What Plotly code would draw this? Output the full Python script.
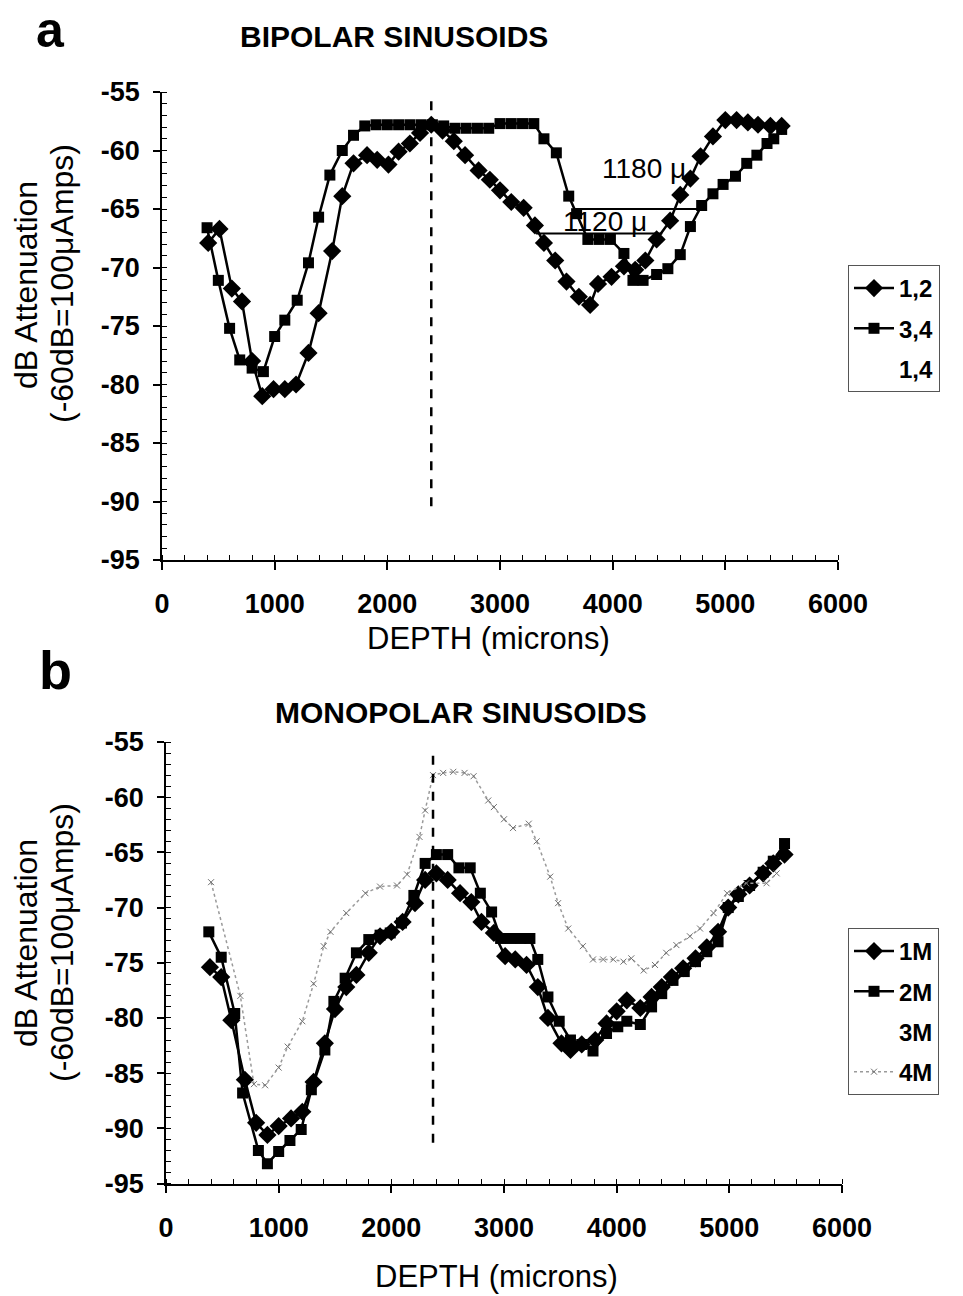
import plotly.graph_objects as go

W, H = 963, 1296
FONT = "Liberation Sans, Arial, sans-serif"

# ---- Panel a: bipolar sinusoids (depth in microns, attenuation in dB) ----
depth_12 = [410, 510, 620, 710, 800, 890, 990, 1090, 1190, 1300, 1390, 1510, 1600, 1700,
            1820, 1910, 2010, 2100, 2200, 2290, 2390, 2490, 2590, 2690, 2810, 2910, 3000,
            3100, 3210, 3310, 3390, 3490, 3590, 3700, 3800, 3870, 3990, 4100, 4200, 4290,
            4390, 4510, 4600, 4690, 4780, 4890, 5000, 5100, 5200, 5290, 5400, 5500]
att_12 = [-67.9, -66.7, -71.8, -72.9, -78.0, -81.0, -80.4, -80.4, -80.0, -77.3, -73.9, -68.6,
          -63.9, -61.1, -60.4, -60.8, -61.2, -60.1, -59.4, -58.5, -57.8, -58.3, -59.2, -60.4,
          -61.7, -62.5, -63.4, -64.4, -64.9, -66.4, -67.9, -69.4, -71.2, -72.5, -73.2, -71.4,
          -70.8, -69.9, -70.2, -69.4, -67.6, -66.0, -63.8, -62.4, -60.5, -58.8, -57.4, -57.4,
          -57.6, -57.8, -57.9, -57.9]

depth_34 = [400, 500, 600, 690, 800, 900, 1000, 1090, 1200, 1300, 1390, 1490, 1600, 1700,
            1800, 1900, 2000, 2100, 2200, 2300, 2400, 2500, 2600, 2700, 2800, 2900, 3000,
            3100, 3200, 3300, 3390, 3500, 3610, 3680, 3780, 3880, 3980, 4100, 4180, 4270,
            4390, 4490, 4600, 4690, 4790, 4890, 4980, 5090, 5190, 5280, 5370, 5430, 5500]
att_34 = [-66.6, -71.1, -75.2, -77.9, -78.6, -78.9, -75.9, -74.5, -72.8, -69.6, -65.7, -62.1,
          -60.0, -58.7, -57.9, -57.8, -57.8, -57.8, -57.8, -57.8, -57.8, -57.9, -58.1, -58.1,
          -58.1, -58.1, -57.7, -57.7, -57.7, -57.7, -59.0, -60.2, -63.9, -65.4, -67.6, -67.6,
          -67.6, -68.8, -71.1, -71.1, -70.6, -70.1, -68.9, -66.5, -64.7, -63.7, -62.9, -62.2,
          -61.1, -60.4, -59.4, -59.0, -58.2]

# ---- Panel b: monopolar sinusoids ----
depth_1m = [390, 490, 580, 700, 800, 900, 1000, 1110, 1210, 1310, 1410, 1500, 1600, 1690,
            1800, 1900, 2000, 2100, 2210, 2300, 2400, 2500, 2610, 2710, 2800, 2910, 3010,
            3100, 3200, 3300, 3390, 3510, 3590, 3690, 3810, 3910, 4000, 4090, 4210, 4310,
            4400, 4490, 4590, 4700, 4800, 4900, 4990, 5080, 5180, 5300, 5390, 5490]
att_1m = [-75.4, -76.3, -80.2, -85.6, -89.5, -90.6, -89.8, -89.1, -88.5, -85.8, -82.3, -79.2,
          -77.2, -76.1, -74.1, -72.6, -72.2, -71.3, -69.6, -67.5, -66.9, -67.5, -68.7, -69.5,
          -71.3, -72.3, -74.4, -74.7, -75.2, -77.2, -80.0, -82.3, -82.9, -82.4, -82.0, -80.5,
          -79.4, -78.4, -79.1, -78.1, -77.2, -76.3, -75.5, -74.6, -73.6, -72.2, -70.0, -68.8,
          -68.0, -66.9, -66.0, -65.2]

depth_2m = [380, 490, 610, 680, 820, 900, 1000, 1100, 1200, 1290, 1410, 1490, 1590, 1690,
            1800, 1900, 1990, 2090, 2200, 2300, 2400, 2500, 2600, 2700, 2790, 2890, 2970,
            3060, 3150, 3230, 3300, 3390, 3490, 3590, 3690, 3790, 3910, 4010, 4090, 4210,
            4310, 4400, 4500, 4600, 4700, 4800, 4900, 4990, 5080, 5180, 5300, 5390, 5490]
att_2m = [-72.2, -74.5, -79.6, -86.8, -92.0, -93.2, -92.1, -91.1, -90.1, -86.5, -82.9, -78.5,
          -76.4, -74.1, -72.9, -72.5, -72.3, -71.4, -68.9, -66.0, -65.2, -65.2, -66.4, -66.4,
          -68.7, -70.4, -72.8, -72.8, -72.8, -72.8, -74.7, -78.1, -80.3, -82.0, -82.4, -83.0,
          -81.4, -80.8, -80.3, -80.6, -79.0, -77.8, -76.6, -75.8, -74.9, -74.0, -73.1, -70.0,
          -69.0, -68.0, -66.8, -65.8, -64.2]

depth_4m = [400, 660, 780, 880, 1000, 1080, 1210, 1310, 1400, 1460, 1600, 1770, 1900, 2050,
            2140, 2250, 2300, 2370, 2460, 2550, 2650, 2730, 2860, 2910, 3000, 3080, 3220,
            3290, 3410, 3480, 3570, 3700, 3790, 3880, 3970, 4060, 4130, 4240, 4340, 4440,
            4530, 4650, 4740, 4860, 4980, 5150, 5330, 5420]
att_4m = [-67.7, -78.0, -86.0, -86.1, -84.5, -82.6, -80.3, -76.9, -73.5, -72.2, -70.5, -68.7,
          -68.1, -68.0, -67.0, -63.6, -61.2, -58.0, -57.8, -57.7, -57.8, -58.1, -60.3, -60.9,
          -62.0, -62.8, -62.4, -64.0, -67.2, -69.6, -71.9, -73.5, -74.7, -74.7, -74.7, -74.9,
          -74.6, -75.7, -75.2, -74.1, -73.4, -72.6, -71.9, -70.5, -68.7, -67.8, -67.8, -66.9]

# Reference depth marker (dashed vertical line) for each panel
marker_depth_a = 2390
marker_span_a = [-90.4, -55.4]
marker_depth_b = 2370
marker_span_b = [-91.3, -55.7]

# Width measurements drawn on panel a
span_labels = ["1180 μ", "1120 μ"]
span_start = [3650, 3320]
span_end = [4830, 4440]
span_level = [-65.0, -67.1]
span_label_x = [4280, 3930]
span_label_y = [-61.5, -66.1]

# Axis ticks
x_ticks = [0, 1000, 2000, 3000, 4000, 5000, 6000]
y_ticks = [-55, -60, -65, -70, -75, -80, -85, -90, -95]

fig = go.Figure()

black = "black"
series_a = [
    ("1,2", depth_12, att_12, "diamond", 14),
    ("3,4", depth_34, att_34, "square", 11),
]
for i, (name, xs, ys, sym, size) in enumerate(series_a):
    fig.add_trace(go.Scatter(
        x=xs, y=ys, name=name, mode="lines+markers", xaxis="x", yaxis="y",
        line=dict(color=black, width=2.5),
        marker=dict(symbol=sym, size=size, color=black),
        legend="legend", legendgroup="a%d" % i,
    ))
# series 1,4 is printed in a colour that does not show on the page
fig.add_trace(go.Scatter(
    x=[None], y=[None], name="1,4", mode="lines", xaxis="x", yaxis="y",
    line=dict(color="white", width=2), legend="legend", legendgroup="a2",
))

series_b = [
    ("1M", depth_1m, att_1m, "diamond", 14),
    ("2M", depth_2m, att_2m, "square", 11),
]
for i, (name, xs, ys, sym, size) in enumerate(series_b):
    fig.add_trace(go.Scatter(
        x=xs, y=ys, name=name, mode="lines+markers", xaxis="x2", yaxis="y2",
        line=dict(color=black, width=2.5),
        marker=dict(symbol=sym, size=size, color=black),
        legend="legend2", legendgroup="b%d" % i,
    ))
fig.add_trace(go.Scatter(
    x=[None], y=[None], name="3M", mode="lines", xaxis="x2", yaxis="y2",
    line=dict(color="white", width=2), legend="legend2", legendgroup="b2",
))
fig.add_trace(go.Scatter(
    x=depth_4m, y=att_4m, name="4M", mode="lines+markers", xaxis="x2", yaxis="y2",
    line=dict(color="#9a9a9a", width=1.5, dash="dot"),
    marker=dict(symbol="x-thin-open", size=6, color="#707070", line=dict(width=1, color="#707070")),
    legend="legend2", legendgroup="b3",
))

# dashed reference lines
for xa, ya, d, span in [("x", "y", marker_depth_a, marker_span_a),
                        ("x2", "y2", marker_depth_b, marker_span_b)]:
    fig.add_shape(type="line", xref=xa, yref=ya, x0=d, x1=d, y0=span[0], y1=span[1],
                  line=dict(color=black, width=2.5, dash="dash"))

# width bars with labels
for lab, x0, x1, lvl, lx, ly in zip(span_labels, span_start, span_end, span_level,
                                    span_label_x, span_label_y):
    fig.add_shape(type="line", xref="x", yref="y", x0=x0, x1=x1, y0=lvl, y1=lvl,
                  line=dict(color=black, width=2))
    fig.add_annotation(x=lx, y=ly, xref="x", yref="y", text=lab, showarrow=False,
                       font=dict(family=FONT, size=28, color=black))


def xaxis_style(domain, anchor):
    return dict(
        domain=domain, anchor=anchor, range=[0, 6000], automargin=False,
        tickmode="array", tickvals=x_ticks, ticktext=[str(v) for v in x_ticks],
        showline=True, linecolor=black, linewidth=1.5,
        ticks="outside", ticklen=8, tickwidth=1.5, tickcolor=black,
        minor=dict(tickmode="linear", tick0=0, dtick=200, ticks="inside",
                   ticklen=5, tickwidth=1, tickcolor=black),
        showgrid=False, zeroline=False, ticklabelstandoff=11,
        tickfont=dict(family=FONT, size=27, color=black, weight="bold"),
    )


def yaxis_style(domain, anchor):
    return dict(
        domain=domain, anchor=anchor, range=[-95, -55], automargin=False,
        tickmode="array", tickvals=y_ticks, ticktext=[str(v) for v in y_ticks],
        showline=True, linecolor=black, linewidth=1.5,
        ticks="outside", ticklen=7, tickwidth=1.5, tickcolor=black,
        minor=dict(tickmode="linear", tick0=-95, dtick=1, ticks="inside",
                   ticklen=5, tickwidth=1, tickcolor=black),
        showgrid=False, zeroline=False, ticklabelstandoff=8,
        tickfont=dict(family=FONT, size=27, color=black, weight="bold"),
    )


def px_x(p):
    return p / W


def px_y(p):
    return 1 - p / H


legend_style = dict(
    x=px_x(848), xanchor="left", yanchor="top",
    bgcolor="white", bordercolor="#555", borderwidth=1,
    font=dict(family=FONT, size=24, color=black, weight="bold"),
    traceorder="grouped", tracegroupgap=6, itemwidth=40,
)

fig.update_layout(
    width=W, height=H, margin=dict(l=0, r=0, t=0, b=0, autoexpand=False),
    paper_bgcolor="white", plot_bgcolor="white",
    xaxis=xaxis_style([px_x(162), px_x(838)], "y"),
    yaxis=yaxis_style([px_y(560), px_y(92)], "x"),
    xaxis2=xaxis_style([px_x(166), px_x(842)], "y2"),
    yaxis2=yaxis_style([px_y(1183.5), px_y(742)], "x2"),
    legend=dict(legend_style, y=px_y(265)),
    legend2=dict(legend_style, y=px_y(928)),
)

# (text, x px, y px, size, weight, angle, vertical anchor)
texts = [
    ("a", 50, 0, 50, "bold", 0, "top"),
    ("b", 55, 670, 54, "bold", 0, "middle"),
    ("BIPOLAR SINUSOIDS", 394, 37, 30, "bold", 0, "middle"),
    ("MONOPOLAR SINUSOIDS", 461, 713, 30, "bold", 0, "middle"),
    ("DEPTH (microns)", 489, 638, 31, "normal", 0, "middle"),
    ("DEPTH (microns)", 496, 1276, 31, "normal", 0, "middle"),
    ("dB Attenuation", 26, 285, 32, "normal", -90, "middle"),
    ("(-60dB=100μAmps)", 62, 284, 32, "normal", -90, "middle"),
    ("dB Attenuation", 26, 943, 32, "normal", -90, "middle"),
    ("(-60dB=100μAmps)", 62, 943, 32, "normal", -90, "middle"),
]
for t, x, y, s, wgt, ang, va in texts:
    fig.add_annotation(x=px_x(x), y=px_y(y), xref="paper", yref="paper", text=t,
                       showarrow=False, textangle=ang, xanchor="center", yanchor=va,
                       font=dict(family=FONT, size=s, color=black, weight=wgt))

fig.write_html("out.html")
